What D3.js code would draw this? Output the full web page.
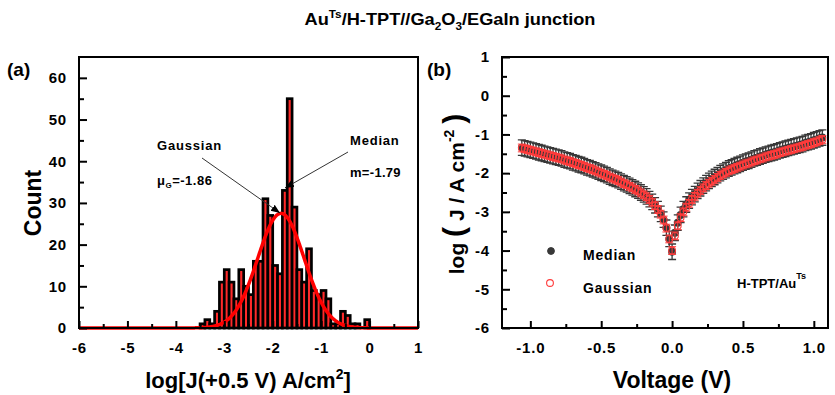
<!DOCTYPE html>
<html><head><meta charset="utf-8">
<script src="https://cdn.jsdelivr.net/npm/d3@7"></script>
<style>
body{margin:0;background:#fff}
svg{display:block}
text{font-family:"Liberation Sans",Arial,sans-serif;font-weight:bold;fill:#000}
</style>
</head><body>
<svg id="c" width="835" height="395"></svg>
<script>
// ---------- Panel (a): histogram ----------
const binLeft = [-3.5,-3.4,-3.3,-3.2,-3.1,-3.0,-2.9,-2.8,-2.7,-2.6,-2.5,-2.4,-2.3,-2.2,-2.1,-2.0,-1.9,-1.8,-1.7,-1.6,-1.5,-1.4,-1.3,-1.2,-1.1,-1.0,-0.9,-0.8,-0.7,-0.6,-0.5,-0.4,-0.3,-0.2,-0.1];
const binCounts = [1,2,1,4,11,14,11,7,14,10,8,16,16,31,27,15,13,33,55,29,14,11,19,9,8,9,7,1,1,4,3,1,1,0,2];
const binWidth = 0.1;
const histXTicks = [-6,-5,-4,-3,-2,-1,0,1];
const histXMinor = [-5.5,-4.5,-3.5,-2.5,-1.5,-0.5,0.5];
const histYTicks = [0,10,20,30,40,50,60];
const histYMinor = [5,15,25,35,45,55];
// Gaussian fit parameters
const gaussMu = -1.83, gaussSigma = 0.48, gaussAmp = 27.5;

// ---------- Panel (b): J-V ----------
const volts = [-1.06,-1.04,-1.02,-1.00,-0.98,-0.96,-0.94,-0.92,-0.90,-0.88,
-0.86,-0.84,-0.82,-0.80,-0.78,-0.76,-0.74,-0.72,-0.70,-0.68,
-0.66,-0.64,-0.62,-0.60,-0.58,-0.56,-0.54,-0.52,-0.50,-0.48,
-0.46,-0.44,-0.42,-0.40,-0.38,-0.36,-0.34,-0.32,-0.30,-0.28,
-0.26,-0.24,-0.22,-0.20,-0.18,-0.16,-0.14,-0.12,-0.10,-0.08,
-0.06,-0.04,-0.02,0.00,
0.02,0.04,0.06,0.08,0.10,0.12,0.14,0.16,0.18,0.20,
0.22,0.24,0.26,0.28,0.30,0.32,0.34,0.36,0.38,0.40,
0.42,0.44,0.46,0.48,0.50,0.52,0.54,0.56,0.58,0.60,
0.62,0.64,0.66,0.68,0.70,0.72,0.74,0.76,0.78,0.80,
0.82,0.84,0.86,0.88,0.90,0.92,0.94,0.96,0.98,1.00,
1.02,1.04,1.06];
const medianJ = [-1.34,-1.36,-1.38,-1.40,-1.42,-1.44,-1.46,-1.48,-1.50,-1.52,
-1.54,-1.56,-1.58,-1.60,-1.62,-1.65,-1.67,-1.69,-1.72,-1.74,
-1.77,-1.79,-1.82,-1.85,-1.87,-1.90,-1.93,-1.96,-1.99,-2.02,
-2.05,-2.09,-2.12,-2.15,-2.18,-2.22,-2.26,-2.29,-2.33,-2.37,
-2.41,-2.45,-2.50,-2.55,-2.60,-2.67,-2.74,-2.83,-2.93,-3.05,
-3.20,-3.41,-3.70,-4.03,
-3.54,-3.28,-3.08,-2.93,-2.81,-2.71,-2.62,-2.54,-2.46,-2.39,
-2.32,-2.26,-2.20,-2.15,-2.10,-2.05,-2.00,-1.96,-1.92,-1.88,
-1.85,-1.82,-1.79,-1.76,-1.73,-1.70,-1.68,-1.65,-1.62,-1.60,
-1.57,-1.55,-1.52,-1.50,-1.48,-1.46,-1.44,-1.41,-1.39,-1.37,
-1.35,-1.33,-1.31,-1.29,-1.27,-1.25,-1.22,-1.20,-1.18,-1.15,
-1.13,-1.10,-1.08];
const gaussJ = [-1.35,-1.37,-1.39,-1.41,-1.43,-1.45,-1.47,-1.49,-1.51,-1.53,
-1.55,-1.57,-1.59,-1.61,-1.63,-1.66,-1.68,-1.70,-1.73,-1.75,
-1.78,-1.80,-1.83,-1.86,-1.88,-1.91,-1.94,-1.97,-2.00,-2.03,
-2.06,-2.10,-2.13,-2.16,-2.19,-2.23,-2.27,-2.30,-2.34,-2.38,
-2.42,-2.46,-2.51,-2.56,-2.61,-2.68,-2.75,-2.84,-2.94,-3.06,
-3.21,-3.42,-3.70,-4.00,
-3.62,-3.36,-3.15,-3.00,-2.88,-2.78,-2.68,-2.60,-2.52,-2.45,
-2.38,-2.32,-2.26,-2.21,-2.16,-2.11,-2.06,-2.02,-1.98,-1.94,
-1.91,-1.88,-1.85,-1.82,-1.79,-1.76,-1.74,-1.71,-1.68,-1.66,
-1.63,-1.61,-1.58,-1.56,-1.54,-1.52,-1.50,-1.47,-1.45,-1.43,
-1.41,-1.39,-1.37,-1.35,-1.33,-1.31,-1.28,-1.26,-1.24,-1.21,
-1.19,-1.16,-1.13];
const medianErr = 0.2, gaussErr = 0.1;
const ivXTicks = [-1.0,-0.5,0.0,0.5,1.0];
const ivXMinor = [-0.75,-0.25,0.25,0.75];
const ivYTicks = [1,0,-1,-2,-3,-4,-5,-6];
const ivYMinor = [0.5,-0.5,-1.5,-2.5,-3.5,-4.5,-5.5];

const svg = d3.select("#c");

// Title
const title = svg.append("text").attr("x",450).attr("y",25).attr("text-anchor","middle")
  .attr("textLength",291).attr("lengthAdjust","spacingAndGlyphs")
  .style("font-size","17px");
title.append("tspan").text("Au");
title.append("tspan").attr("dy",-7).style("font-size","11px").text("Ts");
title.append("tspan").attr("dy",7).text("/H-TPT//Ga");
title.append("tspan").attr("dy",5).style("font-size","11px").text("2");
title.append("tspan").attr("dy",-5).text("O");
title.append("tspan").attr("dy",5).style("font-size","11px").text("3");
title.append("tspan").attr("dy",-5).text("/EGaIn junction");

function styleAxis(g){
  g.select(".domain").remove();
  g.selectAll(".tick line").attr("stroke","#000").attr("stroke-width",2);
  g.selectAll(".tick text").style("font-size","15px").style("letter-spacing","0.8px")
    .style("font-family",'"Liberation Sans",Arial,sans-serif').style("font-weight","bold");
}

// ---------- Panel (a) ----------
const ax = d3.scaleLinear().domain([-6,1]).range([79,418]);
const ay = d3.scaleLinear().domain([0,65]).range([328,57]);
const pa = svg.append("g");

pa.selectAll("rect.bar").data(binLeft).join("rect").attr("class","bar")
  .attr("x",(d)=>ax(d)).attr("width",(d)=>ax(d+binWidth)-ax(d))
  .attr("y",(d,i)=>ay(binCounts[i])).attr("height",(d,i)=>ay(0)-ay(binCounts[i]))
  .attr("fill","#ff2a2a").attr("stroke","#000").attr("stroke-width",2.7);

const gx = d3.range(0,701).map(i=>-6+i*0.01);
pa.append("path").datum(gx)
  .attr("d",d3.line().x(d=>ax(d)).y(d=>ay(gaussAmp*Math.exp(-0.5*Math.pow((d-gaussMu)/gaussSigma,2)))))
  .attr("fill","none").attr("stroke","#ff0000").attr("stroke-width",3.5);

pa.append("g").attr("transform","translate(0,328)")
  .call(d3.axisBottom(ax).tickValues(histXTicks).tickSizeInner(-7).tickSizeOuter(0).tickPadding(14).tickFormat(d=>String(d)))
  .call(styleAxis);
pa.append("g").attr("transform","translate(0,328)")
  .call(d3.axisBottom(ax).tickValues(histXMinor).tickSizeInner(-4).tickSizeOuter(0).tickFormat(""))
  .call(styleAxis);
pa.append("g").attr("transform","translate(79,0)")
  .call(d3.axisLeft(ay).tickValues(histYTicks).tickSizeInner(-8).tickSizeOuter(0).tickPadding(12).tickFormat(d=>String(d)))
  .call(styleAxis);
pa.append("g").attr("transform","translate(79,0)")
  .call(d3.axisLeft(ay).tickValues(histYMinor).tickSizeInner(-5).tickSizeOuter(0).tickFormat(""))
  .call(styleAxis);
pa.append("rect").attr("x",79).attr("y",57).attr("width",339).attr("height",271)
  .attr("fill","none").attr("stroke","#000").attr("stroke-width",2);

// arrowheads
const defs = svg.append("defs");
defs.append("marker").attr("id","arr").attr("viewBox","0 0 10 10").attr("refX",10).attr("refY",5)
  .attr("markerWidth",9).attr("markerHeight",9).attr("markerUnits","userSpaceOnUse").attr("orient","auto")
  .append("path").attr("d","M0,1 L10,5 L0,9 Z").attr("fill","#000");

pa.append("line").attr("x1",202).attr("y1",158).attr("x2",280).attr("y2",213)
  .attr("stroke","#333").attr("stroke-width",1).attr("marker-end","url(#arr)");
pa.append("line").attr("x1",348).attr("y1",152).attr("x2",285).attr("y2",188)
  .attr("stroke","#333").attr("stroke-width",1).attr("marker-end","url(#arr)");

pa.append("text").attr("x",157).attr("y",150).style("font-size","13px").style("letter-spacing","0.8px").text("Gaussian");
const mu = pa.append("text").attr("x",157).attr("y",185).style("font-size","13px").style("letter-spacing","0.5px");
mu.append("tspan").text("μ");
mu.append("tspan").attr("dy",3).style("font-size","8px").text("G");
mu.append("tspan").attr("dy",-3).text("=-1.86");
pa.append("text").attr("x",350).attr("y",145).style("font-size","13px").style("letter-spacing","0.8px").text("Median");
pa.append("text").attr("x",350).attr("y",177).style("font-size","13px").style("letter-spacing","0.3px").text("m=-1.79");

pa.append("text").attr("x",7).attr("y",76).style("font-size","19px").text("(a)");
pa.append("text").attr("transform","translate(41,203) rotate(-90)").attr("text-anchor","middle").style("font-size","23px").text("Count");
const xl = pa.append("text").attr("x",248).attr("y",388).attr("text-anchor","middle").style("font-size","22px");
xl.append("tspan").text("log[J(+0.5 V) A/cm");
xl.append("tspan").attr("dy",-9).style("font-size","14px").text("2");
xl.append("tspan").attr("dy",9).text("]");

// ---------- Panel (b) ----------
const bx = d3.scaleLinear().domain([-1.2,1.1]).range([502,828]);
const by = d3.scaleLinear().domain([-6,1]).range([328,57]);
const pb = svg.append("g");

function drawSeries(vals, err, color, filled, ew){
  const g = pb.append("g");
  g.selectAll("path.eb").data(volts).join("path").attr("class","eb")
    .attr("d",(d,i)=>{
      const x=bx(d), y1=by(vals[i]-err), y2=by(vals[i]+err);
      return `M${x},${y1}V${y2}M${x-4},${y1}H${x+4}M${x-4},${y2}H${x+4}`;
    })
    .attr("stroke",color).attr("stroke-width",ew).attr("fill","none");
  g.selectAll("circle").data(volts).join("circle")
    .attr("cx",d=>bx(d)).attr("cy",(d,i)=>by(vals[i])).attr("r",3.4)
    .attr("fill",filled?color:"none").attr("stroke",color).attr("stroke-width",1.1);
}
drawSeries(medianJ, medianErr, "#383838", true, 1.3);
drawSeries(gaussJ, gaussErr, "#ff3b3b", false, 1);

pb.append("g").attr("transform","translate(0,328)")
  .call(d3.axisBottom(bx).tickValues(ivXTicks).tickSizeInner(-7).tickSizeOuter(0).tickPadding(14).tickFormat(d=>d.toFixed(1)))
  .call(styleAxis);
pb.append("g").attr("transform","translate(0,328)")
  .call(d3.axisBottom(bx).tickValues(ivXMinor).tickSizeInner(-4).tickSizeOuter(0).tickFormat(""))
  .call(styleAxis);
pb.append("g").attr("transform","translate(502,0)")
  .call(d3.axisLeft(by).tickValues(ivYTicks).tickSizeInner(-8).tickSizeOuter(0).tickPadding(12).tickFormat(d=>String(d)))
  .call(styleAxis);
pb.append("g").attr("transform","translate(502,0)")
  .call(d3.axisLeft(by).tickValues(ivYMinor).tickSizeInner(-5).tickSizeOuter(0).tickFormat(""))
  .call(styleAxis);
pb.append("rect").attr("x",502).attr("y",57).attr("width",326).attr("height",271)
  .attr("fill","none").attr("stroke","#000").attr("stroke-width",2);

pb.append("text").attr("x",427).attr("y",76).style("font-size","19px").text("(b)");
const yl = pb.append("text").attr("transform","translate(464,194) rotate(-90)").attr("text-anchor","middle").style("font-size","21px");
yl.append("tspan").text("log ");
yl.append("tspan").style("font-size","30px").text("(");
yl.append("tspan").text(" J / A cm");
yl.append("tspan").attr("dy",-10).style("font-size","14px").text("-2");
yl.append("tspan").attr("dy",10).text(" ");
yl.append("tspan").style("font-size","30px").text(")");
pb.append("text").attr("x",672).attr("y",388).attr("text-anchor","middle").style("font-size","23px").text("Voltage (V)");

// legend
pb.append("circle").attr("cx",551).attr("cy",251).attr("r",3.4).attr("fill","#383838").attr("stroke","#383838");
pb.append("text").attr("x",583).attr("y",260).style("font-size","14px").style("letter-spacing","0.8px").text("Median");
pb.append("circle").attr("cx",550).attr("cy",283).attr("r",3.4).attr("fill","none").attr("stroke","#ff3b3b").attr("stroke-width",1.1);
pb.append("text").attr("x",583).attr("y",293).style("font-size","14px").style("letter-spacing","0.8px").text("Gaussian");
const ht = pb.append("text").attr("x",737).attr("y",288).style("font-size","13px");
ht.append("tspan").text("H-TPT/Au");
ht.append("tspan").attr("dy",-9).style("font-size","9px").text("Ts");
</script>
</body></html>
